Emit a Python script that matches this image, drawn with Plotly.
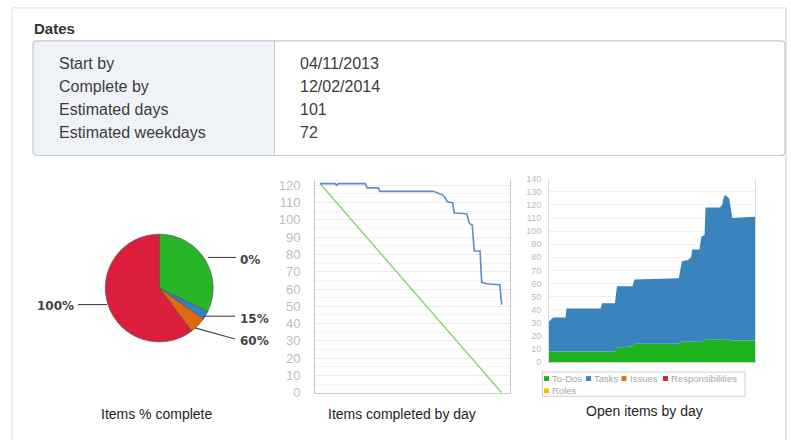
import plotly.graph_objects as go

W, H = 791, 448

# ---------------- data ----------------
date_labels = ["Start by", "Complete by", "Estimated days", "Estimated weekdays"]
date_values = ["04/11/2013", "12/02/2014", "101", "72"]

pie_labels = ["0%", "15%", "60%", "100%"]
pie_values = [39, 3, 6, 73]
pie_colors = ["#27b52a", "#2f82c6", "#e0680f", "#dc1e3a"]

burn_days = [0, 8.3, 9.2, 10.1, 24.8, 26, 32.1, 33, 62.4, 65.1, 67.5, 68.8, 70.1,
             73, 73.9, 80.7, 82.2, 83.8, 84.9, 88.1, 89, 91.7, 99, 100]
burn_remaining = [121, 121, 120, 121, 121, 118.5, 118.5, 116.5, 116.5, 115.5, 114.5, 113,
                  110.5, 110, 104, 103.5, 98, 97, 82, 82, 64, 63, 62.5, 51]
ideal_days = [0, 100]
ideal_remaining = [121, 0]

open_days = [0, 2, 8, 8.5, 25, 25.8, 32, 33, 40.5, 41.5, 63, 64.5, 67.5, 69, 69.5,
             73, 74, 75.5, 76, 83, 84, 85, 86, 87.5, 89, 100]
open_todos = [8, 8, 8, 8, 8, 8, 8, 11, 12, 14, 14, 15.5, 15.5, 15.5, 15.5,
              15.5, 15.5, 17.5, 17.5, 17.5, 17.5, 17.5, 17.5, 17, 16.5, 16.5]
open_tasks = [23, 26, 26, 33, 33, 37, 37, 47, 46, 49, 50, 61.5, 62.5, 64.5, 70.5,
              70.5, 80.5, 79.5, 100.5, 100.5, 102.5, 109.5, 109.5, 108, 93.5, 94.5]
open_issues = [0] * len(open_days)
open_responsibilities = [0] * len(open_days)
open_roles = [0] * len(open_days)

open_series = ["To-Dos", "Tasks", "Issues", "Responsibilities", "Roles"]
open_colors = ["#1fb21f", "#3a84be", "#e0700f", "#d42030", "#f5c400"]


def px(x):
    return x / W


def py(y):
    return 1 - y / H


fig = go.Figure()

# ---------------- pie ----------------
fig.add_trace(go.Pie(
    labels=pie_labels, values=pie_values, sort=False, direction="clockwise", rotation=0,
    marker=dict(colors=pie_colors, line=dict(color="#555555", width=0.7)),
    textinfo="none", showlegend=False,
    domain=dict(x=[px(103.5), px(215)], y=[py(347), py(236)]),
))

# ---------------- burndown ----------------
fig.add_trace(go.Scatter(x=ideal_days, y=ideal_remaining, mode="lines",
                         line=dict(color="#86d472", width=1.4), xaxis="x", yaxis="y",
                         showlegend=False, name="Ideal"))
fig.add_trace(go.Scatter(x=burn_days, y=burn_remaining, mode="lines",
                         line=dict(color="#5a8ecb", width=1.6), xaxis="x", yaxis="y",
                         showlegend=False, name="Remaining"))

# ---------------- open items (stacked area) ----------------
open_data = [open_todos, open_tasks, open_issues, open_responsibilities, open_roles]
for name, vals, col in zip(open_series, open_data, open_colors):
    fig.add_trace(go.Scatter(x=open_days, y=vals, name=name, stackgroup="open",
                             mode="lines", line=dict(width=0, color=col), fillcolor=col,
                             xaxis="x2", yaxis="y2", showlegend=False))

shapes = []
annotations = []

# outer panel borders
for (x0, y0, x1, y1, c) in [(12, 3, 786, 3, "#e4e4e4"), (12, 3, 12, 448, "#e4e4e4"),
                            (786, 3, 786, 448, "#d4d4d4")]:
    shapes.append(dict(type="line", xref="paper", yref="paper", x0=px(x0), y0=py(y0),
                       x1=px(x1), y1=py(y1), line=dict(color=c, width=1.2)))

# table box (rounded)
L, R, T, B, mid = 33, 785, 37, 155, 274.5
rx, ry = 4 / W, 4 / H
left_path = (f"M {px(mid)},{py(T)} L {px(L)+rx},{py(T)} Q {px(L)},{py(T)} {px(L)},{py(T)-ry} "
             f"L {px(L)},{py(B)+ry} Q {px(L)},{py(B)} {px(L)+rx},{py(B)} L {px(mid)},{py(B)} Z")
shapes.append(dict(type="path", xref="paper", yref="paper", path=left_path,
                   fillcolor="#eff3f8", line=dict(width=0)))
box_path = (f"M {px(L)+rx},{py(T)} L {px(R)-rx},{py(T)} Q {px(R)},{py(T)} {px(R)},{py(T)-ry} "
            f"L {px(R)},{py(B)+ry} Q {px(R)},{py(B)} {px(R)-rx},{py(B)} L {px(L)+rx},{py(B)} "
            f"Q {px(L)},{py(B)} {px(L)},{py(B)+ry} L {px(L)},{py(T)-ry} Q {px(L)},{py(T)} {px(L)+rx},{py(T)} Z")
shapes.append(dict(type="path", xref="paper", yref="paper", path=box_path,
                   line=dict(color="#c3c8cd", width=1.2)))
shapes.append(dict(type="line", xref="paper", yref="paper", x0=px(mid), x1=px(mid),
                   y0=py(T), y1=py(B), line=dict(color="#c8c8c8", width=1)))

annotations.append(dict(text="<b>Dates</b>", x=px(32), y=py(24), xref="paper", yref="paper",
                        xanchor="left", yanchor="middle", showarrow=False,
                        font=dict(family="Liberation Sans, Arial", size=15, color="#333333")))
row_y = [60.5, 84, 107.5, 131]
for lab, val, yy in zip(date_labels, date_values, row_y):
    annotations.append(dict(text=lab, x=px(57), y=py(yy), xref="paper", yref="paper",
                            xanchor="left", yanchor="middle", showarrow=False,
                            font=dict(family="Liberation Sans, Arial", size=16, color="#3c3c3c")))
    annotations.append(dict(text=val, x=px(298), y=py(yy), xref="paper", yref="paper",
                            xanchor="left", yanchor="middle", showarrow=False,
                            font=dict(family="Liberation Sans, Arial", size=16, color="#3c3c3c")))

# pie leader lines and labels
leaders = [((208, 260), (236, 260), (238, 263), "left"),
           ((203, 320.5), (235, 320.5), (238, 323), "left"),
           ((195, 332.5), (235, 344), (238, 346), "left"),
           ((107, 308.5), (78, 308.5), (76, 309.5), "right")]
for lab, (p0, p1, tp, anc) in zip(pie_labels, leaders):
    shapes.append(dict(type="line", xref="paper", yref="paper", x0=px(p0[0]), y0=py(p0[1]),
                       x1=px(p1[0]), y1=py(p1[1]), line=dict(color="#444444", width=1.1)))
    annotations.append(dict(text=f"<b>{lab}</b>", x=px(tp[0]), y=py(tp[1]), xref="paper",
                            yref="paper", xanchor=anc, yanchor="middle", showarrow=False,
                            font=dict(family="DejaVu Sans", size=12, color="#444444")))

# chart titles
for txt, cx, cy in [("Items % complete", 156.5, 421.5), ("Items completed by day", 401.5, 421.5),
                    ("Open items by day", 644, 418.5)]:
    annotations.append(dict(text=txt, x=px(cx), y=py(cy), xref="paper", yref="paper",
                            xanchor="center", yanchor="middle", showarrow=False,
                            font=dict(family="Liberation Sans, Arial", size=14, color="#1e1e1e")))

# manual legend for open items chart
shapes.append(dict(type="rect", xref="paper", yref="paper", x0=px(542.5), x1=px(745),
                   y0=py(403), y1=py(378), line=dict(color="#d0d0d0", width=1)))
leg_pos = [(544, 384.7), (586, 384.7), (621.5, 384.7), (663, 384.7), (544, 397.3)]
for name, col, (lx, ly) in zip(open_series, open_colors, leg_pos):
    shapes.append(dict(type="rect", xref="paper", yref="paper", x0=px(lx), x1=px(lx + 5),
                       y0=py(ly + 2.5), y1=py(ly - 2.5), fillcolor=col, line=dict(width=0)))
    annotations.append(dict(text=name, x=px(lx + 6), y=py(ly), xref="paper", yref="paper",
                            xanchor="left", yanchor="middle", showarrow=False,
                            font=dict(family="Liberation Sans, Arial", size=9.5, color="#a8a8a8")))

fig.update_layout(
    width=W, height=H, autosize=False,
    margin=dict(l=0, r=0, t=0, b=0),
    paper_bgcolor="white", plot_bgcolor="white",
    showlegend=False,
    shapes=shapes, annotations=annotations,
    xaxis=dict(domain=[px(315), px(510)], range=[-2.75, 104.6], showgrid=False,
               zeroline=False, showline=True, linecolor="#c9c9c9", showticklabels=False,
               ticks=""),
    yaxis=dict(domain=[py(399.3), py(180)], range=[0, 123.2], tickmode="array",
               tickvals=list(range(0, 121, 10)), showgrid=True, gridcolor="#ececec",
               minor=dict(dtick=5, tick0=0, showgrid=True, gridcolor="#f4f4f4"),
               zeroline=False, showline=True, mirror=True, linecolor="#c9c9c9",
               ticks="", ticklabelstandoff=11,
               tickfont=dict(family="Liberation Sans, Arial", size=13, color="#bdbdbd")),
    xaxis2=dict(domain=[px(549), px(755)], range=[0, 100], showgrid=False, zeroline=False,
                showline=True, linecolor="#d0d0d0", showticklabels=False, ticks="",
                anchor="y2"),
    yaxis2=dict(domain=[py(367.7), py(179)], range=[0, 140], tickmode="array",
                tickvals=list(range(0, 141, 10)), showgrid=True, gridcolor="#f0f0f0",
                zeroline=False, showline=True, mirror=True, linecolor="#dadada",
                ticks="", ticklabelstandoff=5, anchor="x2",
                tickfont=dict(family="Liberation Sans, Arial", size=9, color="#bbbbbb")),
)

fig.write_html("out.html", config={"displayModeBar": False},
               post_script="document.body.style.margin='0';document.body.style.overflow='hidden';")
